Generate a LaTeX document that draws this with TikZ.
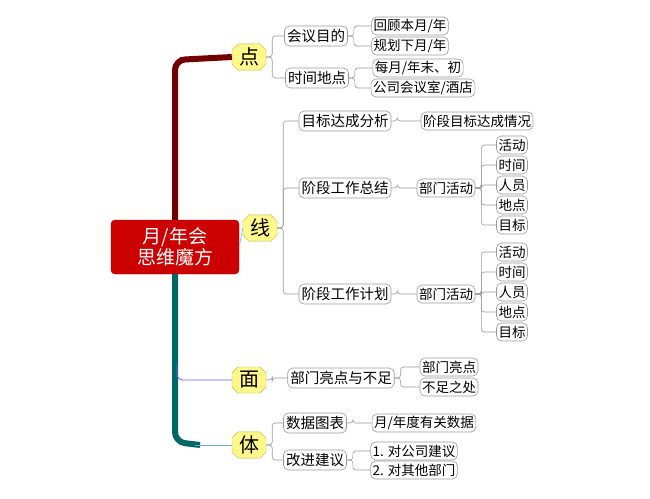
\documentclass[tikz,border=0pt]{standalone}
\usepackage{fontspec}
\setmainfont{Noto Sans CJK SC}
\usetikzlibrary{shapes.misc}
\newcommand{\branch}[2]{\draw[conn] (#1.east) -- ++(6,0) |- (#2.west);}

\begin{document}
\begin{tikzpicture}[x=1pt, y=-1pt,
    rootbox/.style = {rectangle, rounded corners=4pt, fill=red!80!black, draw=red!60!black,
                      text=white, font=\fontsize{19}{21}\selectfont, align=center,
                      minimum width=128pt, minimum height=54pt, inner sep=2pt},
    mainbox/.style = {chamfered rectangle, chamfered rectangle xsep=3pt, chamfered rectangle ysep=3pt,
                      fill=yellow!45, draw=olive!60, font=\fontsize{20}{22}\selectfont,
                      minimum width=34pt, minimum height=26pt, inner sep=1pt},
    subbox/.style  = {rectangle, rounded corners=5pt, draw=gray!80, fill=white, line width=0.6pt,
                      font=\fontsize{14.5}{16}\selectfont, minimum height=20pt, inner sep=2.5pt},
    leafbox/.style = {subbox, font=\fontsize{13.5}{15}\selectfont, minimum height=18pt, inner sep=2pt},
    conn/.style    = {draw=gray!80, line width=0.6pt, rounded corners=3pt}]
\useasboundingbox (0,0) rectangle (650,498);
% root and main branches
\node (root) [rootbox] at (175,247) {月/年会\\思维魔方};
\node (dian) [mainbox] at (249,57) {点};
\node (xian) [mainbox] at (260,228) {线};
\node (mian) [mainbox] at (249,380) {面};
\node (ti) [mainbox] at (249,445) {体};
\draw[red!45!black, line width=6pt, rounded corners=10pt] (root.north -| 175,0) -- (175,60) -- (dian.west);
\draw[red!45!black, line width=1pt] (180,57) -- (dian.west);
\draw[teal!80!black, line width=6pt, rounded corners=10pt] (root.south -| 175,0) -- (175,442) -- (200,445);
\draw[teal!60, line width=1pt] (195,445) -- (ti.west);
\draw[blue!60, line width=0.8pt, rounded corners=6pt] (177,365) -- (177,380) -- (mian.west);
\draw[cyan!60, line width=0.8pt] (root.east) -- (xian.west);
% 点
\node (mudi) [subbox] at (316,36) {会议目的};
\node (shijian) [subbox] at (317,78) {时间地点};
\node (huigu) [leafbox] at (410,26) {回顾本月/年};
\node (guihua) [leafbox] at (410,46) {规划下月/年};
\node (meiyue) [leafbox] at (418,68) {每月/年末、初};
\node (gongsi) [leafbox] at (423,88) {公司会议室/酒店};
\branch{dian}{mudi} \branch{dian}{shijian}
\branch{mudi}{huigu} \branch{mudi}{guihua}
\branch{shijian}{meiyue} \branch{shijian}{gongsi}
% 线
\node (fenxi) [subbox] at (345,121) {目标达成分析};
\node (qingkuang) [leafbox] at (477,121) {阶段目标达成情况};
\node (zongjie) [subbox] at (345,188) {阶段工作总结};
\node (bumen1) [leafbox] at (446,188) {部门活动};
\node (jihua) [subbox] at (345,294) {阶段工作计划};
\node (bumen2) [leafbox] at (446,294) {部门活动};
\branch{xian}{fenxi} \branch{xian}{zongjie} \branch{xian}{jihua}
\branch{fenxi}{qingkuang} \branch{zongjie}{bumen1} \branch{jihua}{bumen2}
\foreach \name/\txt [count=\i from 0] in {huodong/活动, shi/时间, renyuan/人员, didian/地点, mubiao/目标} {
  \node (\name1) [leafbox] at (512,145+20*\i) {\txt};
  \node (\name2) [leafbox] at (512,252+20*\i) {\txt};
  \branch{bumen1}{\name1}
  \branch{bumen2}{\name2}
}
% 面
\node (liangdian) [subbox] at (341,378) {部门亮点与不足};
\node (bmld) [leafbox] at (449,367) {部门亮点};
\node (buzu) [leafbox] at (449,387) {不足之处};
\branch{mian}{liangdian} \branch{liangdian}{bmld} \branch{liangdian}{buzu}
% 体
\node (tubiao) [subbox] at (315,423) {数据图表};
\node (shuju) [leafbox] at (424,423) {月/年度有关数据};
\node (gaijin) [subbox] at (315,460) {改进建议};
\node (jianyi1) [leafbox] at (414,451) {1. 对公司建议};
\node (jianyi2) [leafbox] at (414,470) {2. 对其他部门};
\branch{ti}{tubiao} \branch{ti}{gaijin}
\branch{tubiao}{shuju} \branch{gaijin}{jianyi1} \branch{gaijin}{jianyi2}
\end{tikzpicture}
\end{document}
